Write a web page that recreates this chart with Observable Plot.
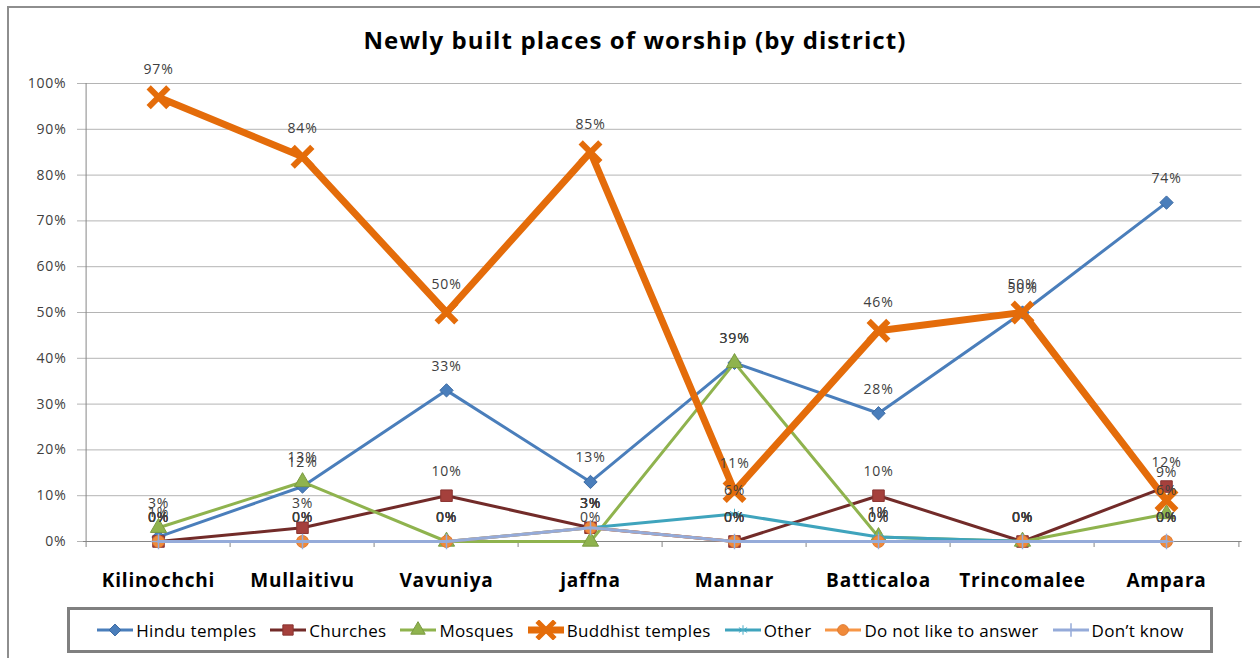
<!DOCTYPE html>
<html><head><meta charset="utf-8">
<script src="https://cdn.jsdelivr.net/npm/d3@7"></script>
<script src="https://cdn.jsdelivr.net/npm/@observablehq/plot@0.6"></script>
<style>
html,body{margin:0;padding:0;background:#fff;overflow:hidden;}
#wrap{position:relative;width:1260px;height:658px;font-family:"Open Sans",sans-serif;overflow:hidden;}
#frame{position:absolute;left:7px;top:6px;width:1300px;height:700px;border:2px solid #8e8e8e;box-sizing:border-box;}
#title{position:absolute;left:0;width:1270px;top:26px;text-align:center;font-weight:bold;font-size:24px;letter-spacing:1.1px;color:#000;line-height:1.2;}
#chart{position:absolute;left:0;top:0;}
#legend{position:absolute;left:67px;top:607px;width:1146px;height:46px;border:3px solid #808080;box-sizing:border-box;display:flex;align-items:center;justify-content:center;gap:13px;font-size:17px;letter-spacing:0.3px;color:#000;background:#fff;}
.item{display:flex;align-items:center;gap:2px;white-space:nowrap;}
</style></head>
<body><div id="wrap"><div id="frame"></div><div id="chart"></div><div id="title">Newly built places of worship (by district)</div><div id="legend"></div></div>
<script>
const districts = ["Kilinochchi","Mullaitivu","Vavuniya","jaffna","Mannar","Batticaloa","Trincomalee","Ampara"];
const hinduTemples    = [1, 12, 33, 13, 39, 28, 50, 74];
const churches        = [0, 3, 10, 3, 0, 10, 0, 12];
const mosques         = [3, 13, 0, 0, 39, 1, 0, 6];
const buddhistTemples = [97, 84, 50, 85, 11, 46, 50, 9];
const other           = [0, 0, 0, 3, 6, 1, 0, 0];
const notLikeAnswer   = [0, 0, 0, 3, 0, 0, 0, 0];
const dontKnow        = [0, 0, 0, 3, 0, 0, 0, 0];
const yTicks = [0,10,20,30,40,50,60,70,80,90,100];

const series = [
  {name:"Hindu temples", values:hinduTemples, line:"#4a7ebb", width:3, symbol:"diamond2", r:6, fill:"#4a7ebb", stroke:"#3c6aa3", sw:1, dy:-24},
  {name:"Churches", values:churches, line:"#722b29", width:3, symbol:"square", r:6.5, fill:"#a5403c", stroke:"#8a3330", sw:1, dy:-24},
  {name:"Mosques", values:mosques, line:"#8fb34e", width:3, symbol:"triangle", r:6, fill:"#8fb34e", stroke:"#7a9a40", sw:1, dy:-24},
  {name:"Buddhist temples", values:buddhistTemples, line:"#e46c0a", width:7, symbol:"times", r:9, fill:"none", stroke:"#e46c0a", sw:6, dy:-28},
  {name:"Other", values:other, line:"#3fa4bd", width:3, symbol:"asterisk", r:5, fill:"none", stroke:"#4bacc6", sw:1, dy:-24},
  {name:"Do not like to answer", values:notLikeAnswer, line:"#f79646", width:3, symbol:"circle", r:6, fill:"#f08a3a", stroke:"#e07a30", sw:1, dy:-24},
  {name:"Don\u2019t know", values:dontKnow, line:"#95abd9", width:3, symbol:"plus", r:5, fill:"none", stroke:"#95abd9", sw:1.5, dy:-24}
];

const rows = series.map(s => districts.map((d,i) => ({series:s.name, district:d, value:s.values[i]})));

const step = (1260 - 83 - 18.5) / districts.length;
const marks = [
  Plot.gridY(yTicks, {stroke:"#b4b4b4", strokeOpacity:1}),
  Plot.axisY(yTicks, {tickSize:6, tickPadding:11, tickFormat:d => d + "%", fontSize:14, stroke:"#b4b4b4", fill:"#404040", label:null}),
  Plot.ruleX([districts[0]], {dx:-step/2, y1:0, y2:100, stroke:"#868686"}),
  Plot.ruleY([0], {stroke:"#868686"}),
  Plot.axisX({tickSize:0, tickPadding:32, fontSize:19, fontWeight:"bold", fill:"#000", label:null}),
  Plot.axisX(districts, {tickSize:6, dx:-step/2, tickFormat:() => "", stroke:"#868686", label:null}),
  Plot.axisX([districts[districts.length-1]], {tickSize:6, dx:step/2, tickFormat:() => "", stroke:"#868686", label:null})
];
series.forEach((s,k) => {
  marks.push(Plot.line(rows[k], {x:"district", y:"value", stroke:s.line, strokeWidth:s.width, strokeLinejoin:"round"}));
  marks.push(Plot.dot(rows[k], {x:"district", y:"value", symbol:() => s.symbol, r:s.r, fill:s.fill, stroke:s.stroke, strokeWidth:s.sw}));
});
series.forEach((s,k) => {
  marks.push(Plot.text(rows[k], {x:"district", y:"value", text:d => Math.round(d.value) + "%", dy:s.dy, fontSize:14, fill:"#404040"}));
});

const chart = Plot.plot({
  width:1260, height:658,
  marginLeft:83, marginRight:18.5, marginTop:83, marginBottom:117,
  style:{fontFamily:"'Open Sans', sans-serif", background:"transparent", overflow:"visible", letterSpacing:"0.8px"},
  x:{type:"point", domain:districts, padding:0.5, label:null},
  y:{domain:[0,100], label:null},
  symbol:{type:"identity"},
  marks
});
document.getElementById("chart").appendChild(chart);

// legend
const legend = document.getElementById("legend");
const symMap = {diamond2:d3.symbolDiamond2, square:d3.symbolSquare, triangle:d3.symbolTriangle, times:d3.symbolTimes, asterisk:d3.symbolAsterisk, circle:d3.symbolCircle, plus:d3.symbolPlus};
series.forEach(s => {
  const item = document.createElement("div");
  item.className = "item";
  const sw = d3.create("svg").attr("width", 38).attr("height", 20);
  sw.append("line").attr("x1",1).attr("x2",37).attr("y1",10).attr("y2",10).attr("stroke", s.line).attr("stroke-width", s.width);
  const size = Math.PI * s.r * s.r * 0.8;
  sw.append("path").attr("transform","translate(19,10)").attr("d", d3.symbol(symMap[s.symbol], size)())
    .attr("fill", s.fill).attr("stroke", s.stroke).attr("stroke-width", s.symbol === "times" ? 5 : s.sw);
  item.appendChild(sw.node());
  const t = document.createElement("span");
  t.textContent = s.name;
  item.appendChild(t);
  legend.appendChild(item);
});
</script></body></html>
